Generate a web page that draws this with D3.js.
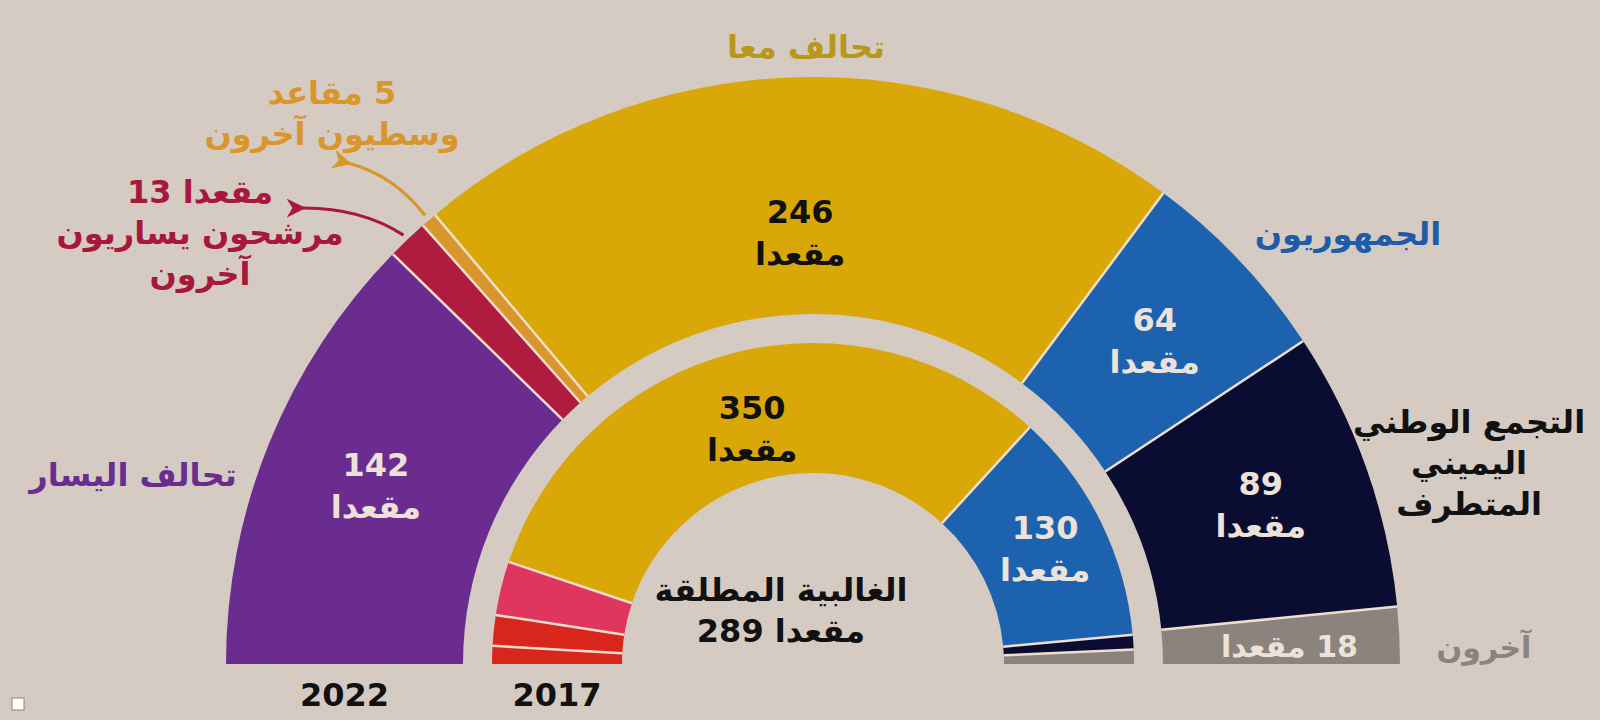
<!DOCTYPE html>
<html>
<head>
<meta charset="utf-8">
<script src="https://cdn.jsdelivr.net/npm/d3@7"></script>
<style>
  html, body { margin: 0; padding: 0; background: #d7cdc5; }
  svg { display: block; }
  text { font-family: "DejaVu Sans", "Noto Sans", sans-serif; font-weight: bold; direction: rtl; }
</style>
</head>
<body>
<div id="chart"></div>
<script>
// 2022 (outer ring) seats, left to right
var outerParties = ["تحالف اليسار", "مرشحون يساريون آخرون", "وسطيون آخرون", "تحالف معا", "الجمهوريون", "التجمع الوطني", "آخرون"];
var outerSeats = [142, 13, 5, 246, 64, 89, 18];

// 2017 (inner ring) seats, left to right
var innerParties = ["يسار 1", "يسار 2", "يسار 3", "معا", "الجمهوريون", "التجمع الوطني", "آخرون"];
var innerSeats = [10, 17, 30, 350, 130, 8, 8];

var years = ["2022", "2017"];
var majorityText = ["الغالبية المطلقة", "مقعدا 289"];

var outerColors = ["#6a2c8f", "#b01b40", "#d8962c", "#d9a808", "#1d62ae", "#0a0d31", "#8a837e"];
var innerColors = ["#d9261c", "#d9261c", "#e0355d", "#d9a808", "#1d62ae", "#0a0d31", "#8a837e"];

var width = 1600, height = 720;
var cx = 813, cy = 664;
var outerR = { inner: 350, outer: 587 },
    innerR = { inner: 191, outer: 321 };

var svg = d3.select("#chart").append("svg")
    .attr("width", width)
    .attr("height", height);

// paper texture
var defs = svg.append("defs");
var f = defs.append("filter").attr("id", "paper").attr("x", 0).attr("y", 0).attr("width", "100%").attr("height", "100%");
f.append("feTurbulence").attr("type", "fractalNoise").attr("baseFrequency", 0.8).attr("numOctaves", 2).attr("seed", 4).attr("result", "n");
f.append("feColorMatrix").attr("in", "n").attr("type", "matrix")
    .attr("values", "0 0 0 0 0.45  0 0 0 0 0.4  0 0 0 0 0.36  0 0 0 -1.6 0.95");
defs.append("marker").attr("id", "headO").attr("viewBox", "0 0 10 10").attr("refX", 2).attr("refY", 5)
    .attr("markerWidth", 6).attr("markerHeight", 6).attr("orient", "auto-start-reverse")
    .append("path").attr("d", "M0,5 L10,0 L7,5 L10,10 Z").attr("fill", "#d8962c");
defs.append("marker").attr("id", "headR").attr("viewBox", "0 0 10 10").attr("refX", 2).attr("refY", 5)
    .attr("markerWidth", 6).attr("markerHeight", 6).attr("orient", "auto-start-reverse")
    .append("path").attr("d", "M0,5 L10,0 L7,5 L10,10 Z").attr("fill", "#a8173d");

svg.append("rect").attr("width", width).attr("height", height).attr("fill", "#d7cdc5");
svg.append("rect").attr("width", width).attr("height", height).attr("filter", "url(#paper)").attr("opacity", 0.35);

var g = svg.append("g").attr("transform", "translate(" + cx + "," + cy + ")");

var pie = d3.pie().sort(null).startAngle(-Math.PI / 2).endAngle(Math.PI / 2);
var outerArcs = pie(outerSeats);
var innerArcs = pie(innerSeats);

var outerArc = d3.arc().innerRadius(outerR.inner).outerRadius(outerR.outer);
var innerArc = d3.arc().innerRadius(innerR.inner).outerRadius(innerR.outer);

function drawRing(arcs, arcGen, colors, r) {
    g.append("g").selectAll("path")
        .data(arcs).enter()
        .append("path")
        .attr("d", arcGen)
        .attr("fill", function (d, i) { return colors[i]; });
    // light separators between segments
    g.append("g").selectAll("line")
        .data(arcs.slice(1)).enter()
        .append("line")
        .attr("x1", function (d) { return d3.pointRadial(d.startAngle, r.inner)[0]; })
        .attr("y1", function (d) { return d3.pointRadial(d.startAngle, r.inner)[1]; })
        .attr("x2", function (d) { return d3.pointRadial(d.startAngle, r.outer)[0]; })
        .attr("y2", function (d) { return d3.pointRadial(d.startAngle, r.outer)[1]; })
        .attr("stroke", "#f1ddcd")
        .attr("stroke-width", 2.5);
}
drawRing(outerArcs, outerArc, outerColors, outerR);
drawRing(innerArcs, innerArc, innerColors, innerR);

// seat labels inside segments
function seatLabel(d, r, color) {
    var a = (d.startAngle + d.endAngle) / 2;
    var p = d3.pointRadial(a, r);
    var t = g.append("text").attr("text-anchor", "middle").attr("fill", color).style("font-size", "32px");
    t.append("tspan").attr("x", p[0]).attr("y", p[1] - 10).text(d.value);
    t.append("tspan").attr("x", p[0]).attr("y", p[1] + 32).text("مقعدا");
}
seatLabel(outerArcs[0], 472, "#ece2d8");
seatLabel(outerArcs[3], 431, "#111111");
seatLabel(outerArcs[4], 470, "#ece2d8");
seatLabel(outerArcs[5], 475, "#ece2d8");
seatLabel(innerArcs[3], 243, "#111111");
seatLabel(innerArcs[4], 259, "#ece2d8");

// "18 seats" on the grey strip
(function () {
    var d = outerArcs[6];
    var p = d3.pointRadial((d.startAngle + d.endAngle) / 2, 477);
    g.append("text").attr("x", p[0]).attr("y", -7).attr("text-anchor", "middle")
        .attr("fill", "#ece2d8").style("font-size", "30px").text(d.value + " مقعدا");
})();

// party names
function label(x, y, lines, color, size) {
    var t = svg.append("text").attr("text-anchor", "middle").attr("fill", color).style("font-size", size + "px");
    lines.forEach(function (s, i) {
        t.append("tspan").attr("x", x).attr("y", y + i * 41).text(s);
    });
}
label(806, 58, ["تحالف معا"], "#b8981a", 32);
label(1348, 245, ["الجمهوريون"], "#1e5ca8", 32);
label(1469, 433, ["التجمع الوطني", "اليميني", "المتطرف"], "#111111", 32);
label(1484, 658, ["آخرون"], "#8a837e", 30);
label(133, 486, ["تحالف اليسار"], "#6a2c8f", 32);
label(332, 104, ["5 مقاعد", "وسطيون آخرون"], "#d8962c", 32);
label(200, 203, ["مقعدا 13", "مرشحون يساريون", "آخرون"], "#a8173d", 32);
label(781, 601, majorityText, "#111111", 32);

// arrows from thin segments to their labels
function arrow(d, tip, color, marker) {
    var p = d3.pointRadial((d.startAngle + d.endAngle) / 2, outerR.outer + 6);
    var s = [cx + p[0], cy + p[1]];
    var c = [(s[0] + tip[0]) / 2 + 8, (s[1] + tip[1]) / 2 - 14];
    svg.append("path")
        .attr("d", "M" + s + " Q" + c + " " + tip)
        .attr("fill", "none").attr("stroke", color).attr("stroke-width", 3.2)
        .attr("marker-end", "url(#" + marker + ")");
}
arrow(outerArcs[2], [348, 163], "#d8962c", "headO");
arrow(outerArcs[1], [302, 208], "#a8173d", "headR");

// years under each ring
svg.selectAll(".year")
    .data([outerR, innerR]).enter()
    .append("text").attr("class", "year")
    .attr("x", function (r) { return cx - (r.inner + r.outer) / 2; })
    .attr("y", 706)
    .attr("text-anchor", "middle").attr("fill", "#111111").style("font-size", "32px")
    .text(function (r, i) { return years[i]; });

// small corner mark
svg.append("rect").attr("x", 12).attr("y", 698).attr("width", 12).attr("height", 12)
    .attr("fill", "#ffffff").attr("stroke", "#8a837e").attr("stroke-width", 1);
</script>
</body>
</html>
